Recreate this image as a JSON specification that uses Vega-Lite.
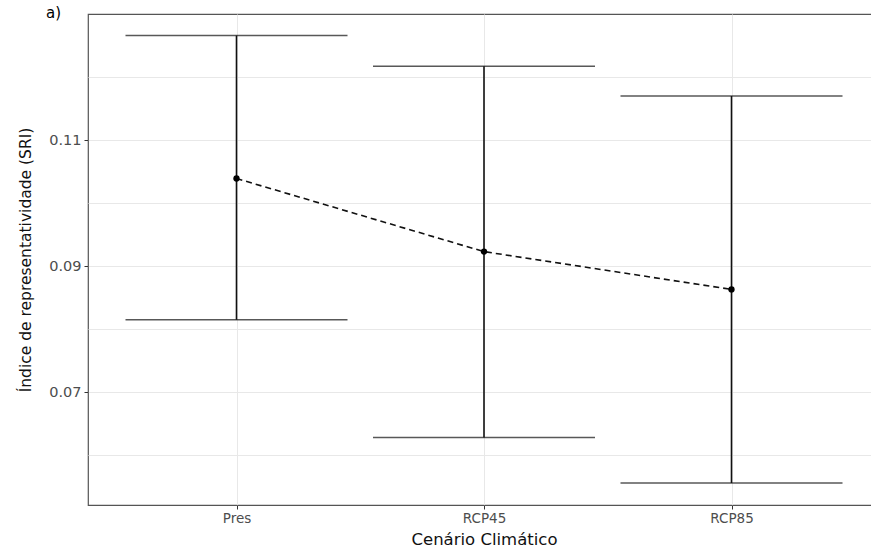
{
  "$schema": "https://vega.github.io/schema/vega-lite/v6.json",
  "autosize": "none",
  "width": 792,
  "height": 491,
  "padding": {"left": 88, "top": 14, "right": 0, "bottom": 54},
  "background": "white",
  "title": {"text": "a)", "anchor": "start", "frame": "group", "dx": -42, "dy": -5, "offset": -12, "fontSize": 15, "fontWeight": "normal", "font": "DejaVu Sans", "color": "#000000", "baseline": "top"},
  "config": {
    "view": {"stroke": "#555555", "strokeWidth": 1.2},
    "axis": {"labelFont": "DejaVu Sans", "titleFont": "DejaVu Sans", "titleFontWeight": "normal", "titleColor": "#111111", "labelColor": "#4d4d4d", "tickColor": "#333333", "gridColor": "#e8e8e8", "gridWidth": 1, "domain": false}
  },
  "data": {"values": [
    {"scenario": "Pres", "mean": 0.1039, "lo": 0.0815, "hi": 0.1266},
    {"scenario": "RCP45", "mean": 0.0923, "lo": 0.0628, "hi": 0.1217},
    {"scenario": "RCP85", "mean": 0.0863, "lo": 0.0556, "hi": 0.1170}
  ]},
  "encoding": {
    "x": {"field": "scenario", "type": "nominal", "sort": null,
      "scale": {"type": "point", "padding": 0.6},
      "axis": {"title": "Cenário Climático", "titleFontSize": 16.5, "titlePadding": 7, "labelAngle": 0, "labelFontSize": 13.5, "tickSize": 4, "labelPadding": 2, "grid": true}}
  },
  "layer": [
    {"mark": {"type": "rule", "color": "#111111", "strokeWidth": 1.6},
     "encoding": {
       "y": {"field": "lo", "type": "quantitative",
         "scale": {"domain": [0.0521, 0.13], "nice": false, "zero": false},
         "axis": {"title": "Índice de representatividade (SRI)", "titleFontSize": 15.5, "titlePadding": 15,
           "values": [0.06, 0.07, 0.08, 0.09, 0.1, 0.11, 0.12], "format": ".2f",
           "labelExpr": "(datum.label == '0.07' || datum.label == '0.09' || datum.label == '0.11') ? datum.label : ''",
           "tickOpacity": {"condition": {"test": "datum.value == 0.07 || datum.value == 0.09 || datum.value == 0.11", "value": 1}, "value": 0},
           "labelFontSize": 14.5, "tickSize": 4, "labelPadding": 3}},
       "y2": {"field": "hi"}
     }},
    {"mark": {"type": "tick", "color": "#111111", "thickness": 1.6, "size": 222, "orient": "horizontal"},
     "encoding": {"y": {"field": "lo", "type": "quantitative"}}},
    {"mark": {"type": "tick", "color": "#111111", "thickness": 1.6, "size": 222, "orient": "horizontal"},
     "encoding": {"y": {"field": "hi", "type": "quantitative"}}},
    {"mark": {"type": "line", "color": "#111111", "strokeWidth": 1.6, "strokeDash": [6, 4]},
     "encoding": {"y": {"field": "mean", "type": "quantitative"}}},
    {"mark": {"type": "point", "filled": true, "color": "#000000", "size": 40, "opacity": 1},
     "encoding": {"y": {"field": "mean", "type": "quantitative"}}}
  ]
}
